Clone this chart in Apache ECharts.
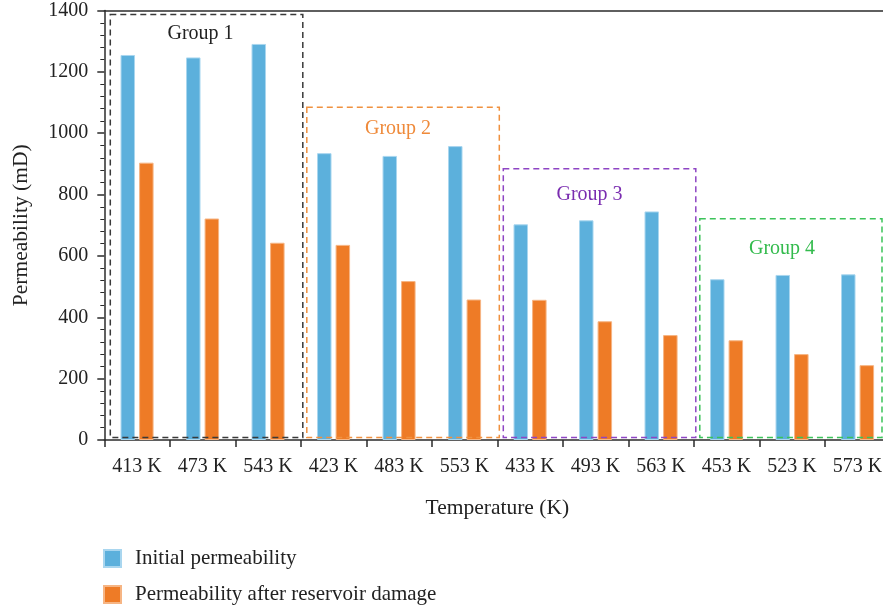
<!DOCTYPE html>
<html>
<head>
<meta charset="utf-8">
<title>Permeability before and after reservoir damage</title>
<script src="https://cdn.jsdelivr.net/npm/echarts@6/dist/echarts.min.js"></script>
<style>
  html, body { margin: 0; padding: 0; background: #fff; }
  #chart { width: 883px; height: 611px; }
</style>
</head>
<body>
<div id="chart"></div>
<script>
// Temperatures, grouped by sample (three per group)
const categories = [
  '413 K', '473 K', '543 K',
  '423 K', '483 K', '553 K',
  '433 K', '493 K', '563 K',
  '453 K', '523 K', '573 K'
];

// Permeability in mD
const initialPermeability = [1255, 1247, 1291, 935, 926, 958, 703, 716, 745, 524, 538, 540];
const damagedPermeability = [904, 722, 643, 636, 518, 458, 457, 387, 342, 325, 280, 244];

const yTicks = [0, 200, 400, 600, 800, 1000, 1200, 1400];

// Group frames: first/last category index, frame top and label height (mD)
const groupNames = ['Group 1', 'Group 2', 'Group 3', 'Group 4'];
const groupFirst = [0, 3, 6, 9];
const groupLast = [2, 5, 8, 11];
const groupTop = [1387, 1085, 884, 721];
const groupLabelAt = [1325, 1015, 800, 622];

// Frame appearance
const frameColors = ['#3a3a3a', '#f0913f', '#8e45c4', '#3cc35a'];
const labelColors = ['#222222', '#ef8a3a', '#7a2db0', '#33bb4d'];
const labelShift = [-2, -1, -6, -10];

const FONT = '"Liberation Serif", "DejaVu Serif", serif';
const TEXT = '#222';
const AXIS = '#2b2b2b';

const chart = echarts.init(document.getElementById('chart'), null, { renderer: 'canvas' });

const option = {
  animation: false,
  backgroundColor: '#fff',
  textStyle: { fontFamily: FONT },
  // the plot runs slightly past the right edge of the canvas
  grid: {
    left: 104.3, width: 786, top: 10.5, bottom: 171,
    containLabel: false, outerBoundsMode: 'none'
  },
  legend: {
    orient: 'vertical',
    left: 103,
    top: 548,
    padding: 0,
    itemWidth: 17,
    itemHeight: 17,
    itemGap: 15,
    icon: 'rect',
    textStyle: { fontFamily: FONT, fontSize: 21, color: TEXT, padding: [0, 0, 0, 9] },
    data: ['Initial permeability', 'Permeability after reservoir damage']
  },
  xAxis: [{
    type: 'category',
    data: categories,
    name: 'Temperature (K)',
    nameLocation: 'middle',
    nameGap: 57,
    nameTextStyle: { fontFamily: FONT, fontSize: 21.5, color: TEXT },
    axisLine: { lineStyle: { color: AXIS, width: 1.5 } },
    axisTick: { show: true, alignWithLabel: false, length: 7, lineStyle: { color: AXIS, width: 1.5 } },
    axisLabel: { fontFamily: FONT, fontSize: 20, color: TEXT, margin: 17, interval: 0 }
  }, {
    type: 'category',
    data: categories,
    position: 'top',
    axisLine: { lineStyle: { color: AXIS, width: 1.5 } },
    axisTick: { show: false },
    axisLabel: { show: false }
  }],
  yAxis: {
    type: 'value',
    min: yTicks[0],
    max: yTicks[yTicks.length - 1],
    interval: yTicks[1] - yTicks[0],
    name: 'Permeability (mD)',
    nameLocation: 'middle',
    nameGap: 72,
    nameTextStyle: { fontFamily: FONT, fontSize: 21.5, color: TEXT },
    axisLine: { show: true, lineStyle: { color: AXIS, width: 1.5 } },
    axisTick: { show: true, length: 7, lineStyle: { color: AXIS, width: 1.5 } },
    minorTick: { show: true, splitNumber: 5, length: 4, lineStyle: { color: AXIS, width: 1 } },
    splitLine: { show: false },
    axisLabel: { fontFamily: FONT, fontSize: 20, color: TEXT, margin: 16, formatter: (v) => String(v) }
  },
  series: [{
    name: 'Initial permeability',
    type: 'bar',
    data: initialPermeability,
    barWidth: 14.5,
    barGap: '28%',
    itemStyle: { color: '#5cb0dc', borderColor: '#a9d6ef', borderWidth: 1 }
  }, {
    name: 'Permeability after reservoir damage',
    type: 'bar',
    data: damagedPermeability,
    barWidth: 14.5,
    barGap: '28%',
    itemStyle: { color: '#ee7b26', borderColor: '#f6b584', borderWidth: 1 }
  }]
};

chart.setOption(option);

// Dashed group frames and their captions, placed through the axes
function drawGroups() {
  const c0 = chart.convertToPixel({ xAxisIndex: 0 }, categories[0]);
  const c1 = chart.convertToPixel({ xAxisIndex: 0 }, categories[1]);
  const band = c1 - c0;
  const yBottom = chart.convertToPixel({ yAxisIndex: 0 }, 8);
  const width = chart.getWidth();
  const elements = [];
  groupNames.forEach((name, i) => {
    const xFirst = chart.convertToPixel({ xAxisIndex: 0 }, categories[groupFirst[i]]);
    const xLast = chart.convertToPixel({ xAxisIndex: 0 }, categories[groupLast[i]]);
    const xMid = (xFirst + xLast) / 2;
    const left = xFirst - band / 2 + 6;
    const right = Math.min(xLast + band / 2 + 2, width - 1);
    const top = chart.convertToPixel({ yAxisIndex: 0 }, groupTop[i]);
    elements.push({
      type: 'rect',
      silent: true,
      z: 10,
      shape: { x: left, y: top, width: right - left, height: yBottom - top },
      style: { fill: 'none', stroke: frameColors[i], lineWidth: 1.5, lineDash: [6, 4] }
    });
    elements.push({
      type: 'text',
      silent: true,
      z: 11,
      x: xMid + labelShift[i],
      y: chart.convertToPixel({ yAxisIndex: 0 }, groupLabelAt[i]),
      style: {
        text: name,
        fill: labelColors[i],
        font: '20px ' + FONT,
        textAlign: 'center',
        textVerticalAlign: 'middle'
      }
    });
  });
  chart.setOption({ graphic: elements });
}

drawGroups();
</script>
</body>
</html>
